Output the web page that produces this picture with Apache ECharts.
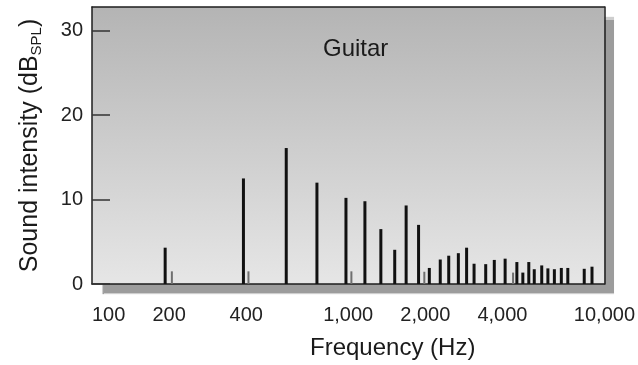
<!DOCTYPE html>
<html>
<head>
<meta charset="utf-8">
<script src="https://cdn.jsdelivr.net/npm/echarts@6/dist/echarts.min.js"></script>
<style>html,body{margin:0;padding:0;background:#fff}#c{width:638px;height:365px}</style>
</head>
<body>
<div id="c"></div>
<script>
// Main (black) spectral lines: frequency in Hz, level in dB SPL
const mainFreqs  = [193, 390, 573, 755, 980, 1162, 1341, 1519, 1683, 1882, 2073, 2287, 2468, 2691, 2898, 3099, 3441, 3717, 4097, 4553, 4804, 5068, 5323, 5693, 6017, 6378, 6789, 7196, 8341, 8944];
const mainLevels = [4.3, 12.5, 16.1, 12.0, 10.2, 9.8, 6.5, 4.05, 9.3, 7.0, 1.9, 2.9, 3.35, 3.65, 4.3, 2.4, 2.35, 2.85, 3.0, 2.6, 1.35, 2.6, 1.75, 2.2, 1.85, 1.75, 1.9, 1.9, 1.8, 2.05];
// Minor (grey) lines
const minorFreqs  = [205, 408, 1029, 1982, 4400];
const minorLevels = [1.5, 1.5, 1.5, 1.45, 1.35];
// Axis ticks
const xTickValues = [100, 200, 400, 1000, 2000, 4000, 10000];
const xTickLabels = ['100', '200', '400', '1,000', '2,000', '4,000', '10,000'];
const yTickValues = [0, 10, 20, 30];
const yTickLabels = ['0', '10', '20', '30'];
const title = 'Guitar';

const chart = echarts.init(document.getElementById('c'), null, {renderer: 'canvas'});

function lineRenderer(width, color) {
  return function (params, api) {
    const f = api.value(0), v = api.value(1);
    const b = api.coord([f, 0]);
    const t = api.coord([f, v]);
    return {
      type: 'rect',
      shape: {x: b[0] - width / 2, y: t[1], width: width, height: b[1] - t[1]},
      style: {fill: color}
    };
  };
}

const font = 'Liberation Sans, Arial, Helvetica, sans-serif';
const frame = {show: true, onZero: false, lineStyle: {color: '#1e1e1e', width: 1.5}};

chart.setOption({
  animation: false,
  backgroundColor: '#ffffff',
  textStyle: {fontFamily: font},
  title: {
    text: title, left: 323, top: 37, padding: 0,
    textStyle: {fontFamily: font, fontSize: 24, fontWeight: 'normal', color: '#1a1a1a'}
  },
  grid: {
    left: 92, right: 31, top: 7, bottom: 80,
    show: true,
    backgroundColor: new echarts.graphic.LinearGradient(0, 0, 0, 1, [
      {offset: 0, color: '#b4b4b4'},
      {offset: 1, color: '#e6e6e6'}
    ]),
    borderWidth: 0,
    shadowColor: '#9c9c9c',
    shadowBlur: 1,
    shadowOffsetX: 10,
    shadowOffsetY: 10
  },
  xAxis: [{
    type: 'log', logBase: 10, min: 100, max: 10000,
    name: 'Frequency (Hz)', nameLocation: 'middle', nameGap: 52,
    nameTextStyle: {fontSize: 24, color: '#1a1a1a', padding: [0, 0, 0, 89]},
    axisLine: frame,
    axisTick: {show: false},
    splitLine: {show: false},
    axisLabel: {
      fontSize: 20, color: '#222', margin: 21,
      customValues: xTickValues,
      alignMinLabel: 'left',
      formatter: function (v) {
        const i = xTickValues.findIndex(t => Math.abs(t - v) / t < 1e-6);
        return i >= 0 ? xTickLabels[i] : '';
      }
    }
  }, {
    type: 'value', position: 'top', min: 0, max: 1,
    axisLine: frame, axisTick: {show: false}, axisLabel: {show: false}, splitLine: {show: false}
  }],
  yAxis: [{
    type: 'value', min: 0, max: 32.8, interval: 10,
    name: '{a|Sound intensity (dB}{s|SPL}{a|)}',
    nameLocation: 'middle', nameGap: 48,
    nameTextStyle: {
      rich: {
        a: {fontSize: 25, color: '#1a1a1a', lineHeight: 28, fontFamily: font},
        s: {fontSize: 15, color: '#1a1a1a', verticalAlign: 'bottom', fontFamily: font}
      }
    },
    axisLine: frame,
    axisTick: {show: true, inside: true, length: 18, lineStyle: {color: '#333', width: 1.5}},
    splitLine: {show: false},
    axisLabel: {
      fontSize: 20, color: '#222', margin: 9, showMaxLabel: false,
      formatter: function (v) {
        const i = yTickValues.indexOf(v);
        return i >= 0 ? yTickLabels[i] : '';
      }
    }
  }, {
    type: 'value', position: 'right', min: 0, max: 1,
    axisLine: frame, axisTick: {show: false}, axisLabel: {show: false}, splitLine: {show: false}
  }],
  series: [
    {
      type: 'custom',
      renderItem: lineRenderer(2, '#6f6f6f'),
      data: minorFreqs.map((f, i) => [f, minorLevels[i]]),
      z: 2
    },
    {
      type: 'custom',
      renderItem: lineRenderer(3, '#111111'),
      data: mainFreqs.map((f, i) => [f, mainLevels[i]]),
      z: 3
    }
  ]
});
</script>
</body>
</html>
